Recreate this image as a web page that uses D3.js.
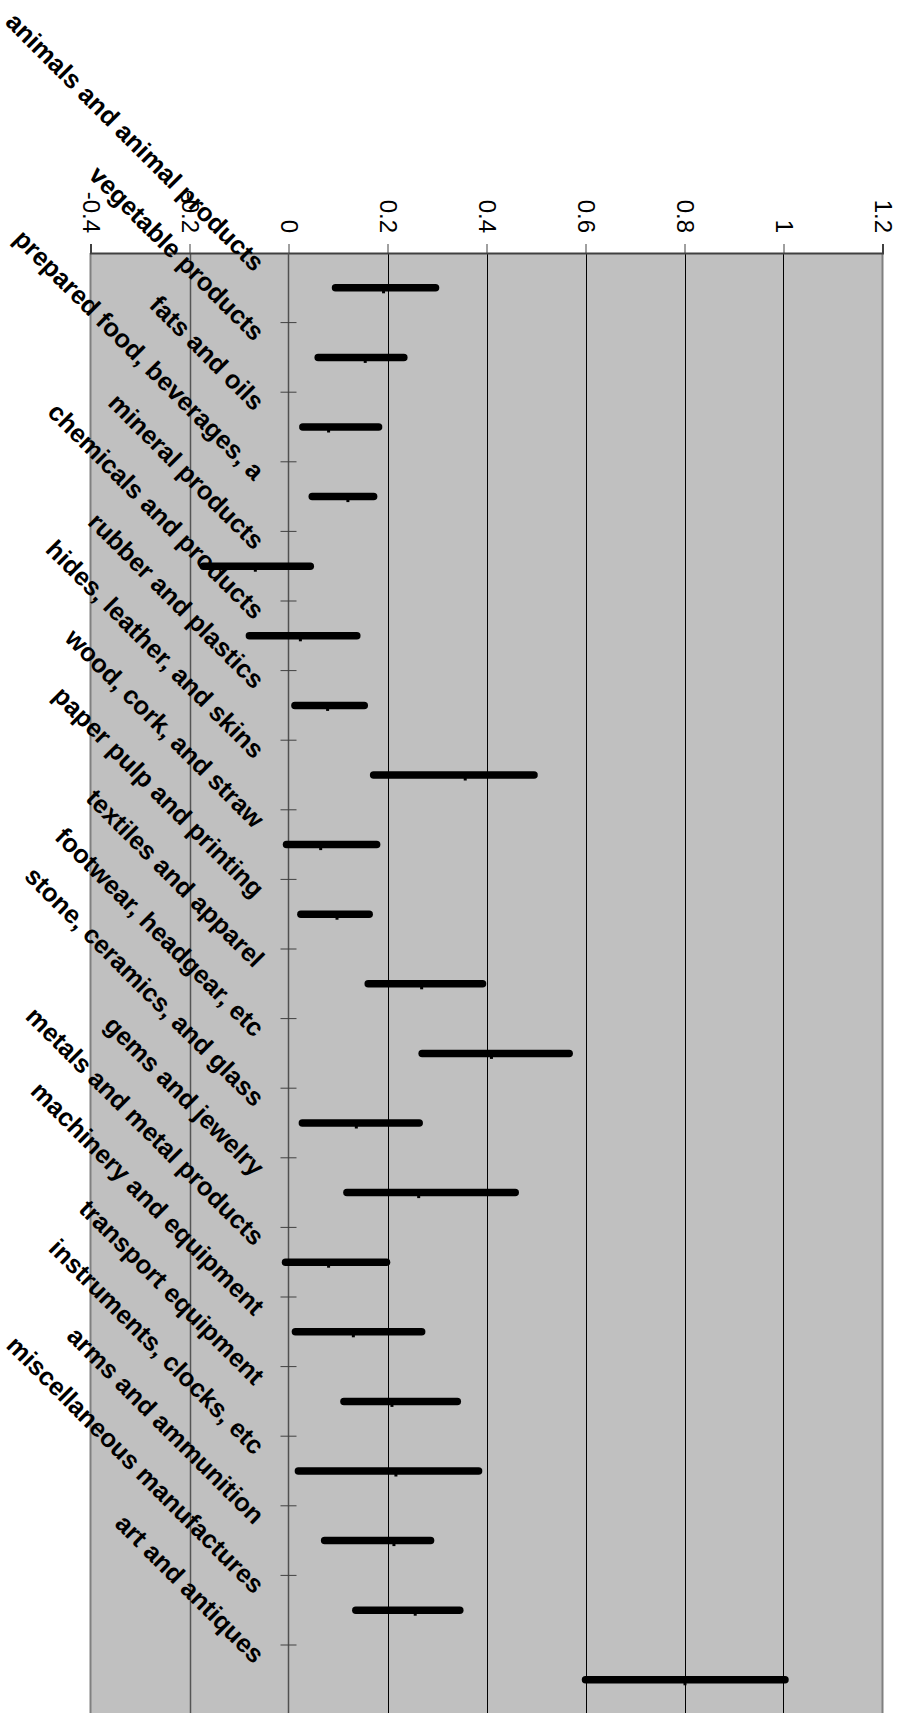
<!DOCTYPE html>
<html>
<head>
<meta charset="utf-8">
<script src="https://cdn.jsdelivr.net/npm/d3@7"></script>
<style>
  html, body { margin: 0; padding: 0; background: #ffffff; }
  svg { display: block; }
</style>
</head>
<body>
<svg id="chart" width="903" height="1713"></svg>
<script>
// Trade categories, top to bottom
const categories = [
  "animals and animal products",
  "vegetable products",
  "fats and oils",
  "prepared food, beverages, a",
  "mineral products",
  "chemicals and products",
  "rubber and plastics",
  "hides, leather, and skins",
  "wood, cork, and straw",
  "paper pulp and printing",
  "textiles and apparel",
  "footwear, headgear, etc",
  "stone, ceramics, and glass",
  "gems and jewelry",
  "metals and metal products",
  "machinery and equipment",
  "transport equipment",
  "instruments, clocks, etc",
  "arms and ammunition",
  "miscellaneous manufactures",
  "art and antiques"
];

// Range of each category: low end, high end, and the middle marker
const lowValues  = [0.095, 0.060, 0.029, 0.048, -0.172, -0.079, 0.013, 0.172, -0.004, 0.025, 0.161,
                    0.270, 0.028, 0.118, -0.006, 0.014, 0.112, 0.020, 0.073, 0.136, 0.600];
const highValues = [0.297, 0.233, 0.182, 0.172, 0.044, 0.138, 0.153, 0.496, 0.178, 0.163, 0.392,
                    0.567, 0.264, 0.458, 0.198, 0.269, 0.341, 0.384, 0.287, 0.346, 1.003];
const midValues  = [0.192, 0.155, 0.081, 0.120, -0.067, 0.024, 0.079, 0.357, 0.065, 0.098, 0.269,
                    0.410, 0.137, 0.263, 0.081, 0.131, 0.209, 0.217, 0.213, 0.256, 0.801];

// Value axis ticks
const tickValues = [-0.4, -0.2, 0, 0.2, 0.4, 0.6, 0.8, 1, 1.2];
const tickLabels = ["-0.4", "-0.2", "0", "0.2", "0.4", "0.6", "0.8", "1", "1.2"];

const rows = categories.map((c, i) => ({
  name: c, low: lowValues[i], high: highValues[i], mid: midValues[i]
}));

const svg = d3.select("#chart");
const font = "'Liberation Sans', Arial, Helvetica, sans-serif";

const plotLeft = 90.5, plotRight = 882.5, plotTop = 253, bandStep = 69.6;
const plotBottom = plotTop + bandStep * categories.length;

const x = d3.scaleLinear().domain([-0.4, 1.2]).range([plotLeft, plotRight]);
const y = d3.scaleBand().domain(categories).range([plotTop, plotBottom]).paddingInner(0).paddingOuter(0);

// Plot background
svg.append("rect")
  .attr("x", plotLeft).attr("y", plotTop)
  .attr("width", plotRight - plotLeft).attr("height", plotBottom - plotTop)
  .attr("fill", "#c0c0c0");

// Gridlines
svg.append("g")
  .selectAll("line")
  .data(tickValues.filter(v => v !== -0.4 && v !== 1.2 && v !== 0))
  .join("line")
  .attr("x1", d => Math.round(x(d)) + 0.5).attr("x2", d => Math.round(x(d)) + 0.5)
  .attr("y1", plotTop).attr("y2", plotBottom)
  .attr("stroke", d => d < 0 ? "#555" : "#000")
  .attr("stroke-width", d => d < 0 ? 1.5 : 1);

// Plot border (left and right)
svg.append("g").selectAll("line")
  .data([-0.4, 1.2])
  .join("line")
  .attr("x1", d => x(d)).attr("x2", d => x(d))
  .attr("y1", plotTop).attr("y2", plotBottom)
  .attr("stroke", "#808080").attr("stroke-width", 2);

// Value axis along the top
const xAxis = d3.axisTop(x)
  .tickValues(tickValues)
  .tickSize(9)
  .tickFormat((d, i) => tickLabels[i]);

const gx = svg.append("g")
  .attr("transform", `translate(0,${plotTop})`)
  .call(xAxis);
gx.select(".domain").attr("stroke", "#404040").attr("stroke-width", 2);
gx.selectAll(".tick line").attr("stroke", "#404040").attr("stroke-width", 1);
gx.selectAll(".tick text")
  .attr("font-family", font)
  .attr("font-size", 24)
  .attr("fill", "#000")
  .attr("text-anchor", "end")
  .attr("dominant-baseline", "central")
  .attr("transform", "translate(0,-20) rotate(90)")
  .attr("x", 0).attr("y", 0).attr("dy", null);

// Category axis at zero
const x0 = x(0);
svg.append("line")
  .attr("x1", x0).attr("x2", x0)
  .attr("y1", plotTop).attr("y2", plotBottom)
  .attr("stroke", "#505050").attr("stroke-width", 1.5);

svg.append("g").selectAll("line")
  .data(categories.slice(1))
  .join("line")
  .attr("x1", x0 - 8).attr("x2", x0 + 8)
  .attr("y1", d => y(d)).attr("y2", d => y(d))
  .attr("stroke", "#404040").attr("stroke-width", 1);

// Range bars
const bars = svg.append("g");
bars.selectAll("line")
  .data(rows)
  .join("line")
  .attr("x1", d => x(d.low)).attr("x2", d => x(d.high))
  .attr("y1", d => y(d.name) + y.bandwidth() / 2)
  .attr("y2", d => y(d.name) + y.bandwidth() / 2)
  .attr("stroke", "#000")
  .attr("stroke-width", 7.5)
  .attr("stroke-linecap", "round");

// Middle markers
bars.selectAll("rect")
  .data(rows)
  .join("rect")
  .attr("x", d => x(d.mid) - 1.5)
  .attr("y", d => y(d.name) + y.bandwidth() / 2)
  .attr("width", 3).attr("height", 5.5)
  .attr("fill", "#000");

// Category labels, slanted
svg.append("g").selectAll("text")
  .data(categories)
  .join("text")
  .attr("transform", d => `translate(${x0 - 28.6},${y(d) + y.bandwidth() / 2 - 21.4}) rotate(45)`)
  .attr("text-anchor", "end")
  .attr("dominant-baseline", "central")
  .attr("font-family", font)
  .attr("font-weight", "bold")
  .attr("font-size", 25.6)
  .attr("fill", "#000")
  .text(d => d);
</script>
</body>
</html>
